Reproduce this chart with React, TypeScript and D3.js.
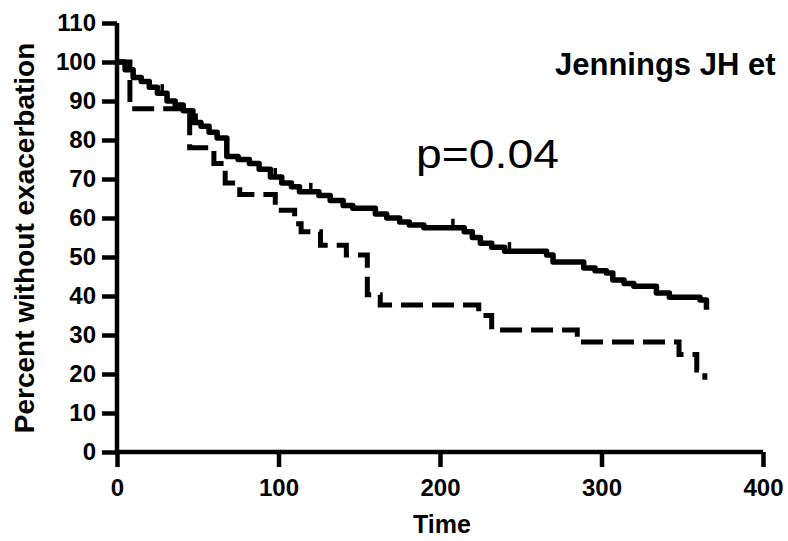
import React, { useRef, useEffect } from 'react';
import * as d3 from 'd3';

// solid curve: event times (days) and percent after each event
const solidTimes = [0, 5, 10, 15, 20, 25, 31, 36, 41, 47, 52, 57, 62, 68, 75, 82, 88, 95, 102, 108, 113, 125, 132, 140, 146, 160, 167, 175, 181, 190, 215, 220, 225, 232, 240, 266, 270, 289, 296, 303, 307, 314, 320, 334, 342, 361, 365];
const solidPct = [100, 98, 96, 95, 93.5, 92, 90, 89, 87.5, 84.5, 83.5, 82, 80.5, 75.8, 75, 74, 72.5, 70.5, 69, 68, 66.7, 65.8, 64.5, 63.2, 62.5, 61, 60, 59, 58.2, 57.5, 56.5, 55, 53.5, 52.5, 51.5, 50.5, 48.7, 47.2, 46.5, 45.9, 44.1, 43.2, 42.5, 40.8, 39.7, 39, 36.5];
const solidCensored = [28, 49, 98, 120, 208, 243];

// dashed curve
const dashTimes = [0, 8, 45, 60, 67, 76, 98, 110, 114, 126, 142, 155, 163, 224, 232, 285, 348, 359, 364];
const dashPct = [100, 88, 78, 74, 69, 66, 62, 58.5, 56.5, 53, 50.5, 40.3, 37.7, 35, 31.3, 28.2, 25, 21, 18.5];

const xTicks = [0, 100, 200, 300, 400];
const yTicks = [0, 10, 20, 30, 40, 50, 60, 70, 80, 90, 100, 110];

const font = "'Liberation Sans', Arial, sans-serif";

const App = () => {
    const ref = useRef(null);

    useEffect(() => {
        const svg = d3.select(ref.current);
        svg.selectAll("*").remove();

        const x = d3.scaleLinear().domain([0, 400]).range([117, 763]);
        const y = d3.scaleLinear().domain([0, 110]).range([452, 23]);

        const line = d3.line()
            .x(d => x(d[0]))
            .y(d => y(d[1]))
            .curve(d3.curveStepAfter);

        const solid = solidTimes.map((t, i) => [t, solidPct[i]]);
        const dashed = dashTimes.map((t, i) => [t, dashPct[i]]);

        svg.append("path")
            .attr("d", line(dashed))
            .attr("fill", "none")
            .attr("stroke", "#000")
            .attr("stroke-width", 5)
            .attr("stroke-dasharray", "22,9");

        svg.append("path")
            .attr("d", line(solid))
            .attr("fill", "none")
            .attr("stroke", "#000")
            .attr("stroke-width", 5.5)
            .attr("stroke-linejoin", "round");

        // censor marks
        svg.append("g").selectAll("line")
            .data(solidCensored)
            .join("line")
            .attr("x1", d => x(d))
            .attr("x2", d => x(d))
            .attr("y1", d => y(solidPct[d3.bisectRight(solidTimes, d) - 1]) - 9)
            .attr("y2", d => y(solidPct[d3.bisectRight(solidTimes, d) - 1]) + 2)
            .attr("stroke", "#000")
            .attr("stroke-width", 3.5);

        // axes
        const xAxis = svg.append("g")
            .attr("transform", `translate(0,${y(0)})`)
            .call(d3.axisBottom(x).tickValues(xTicks).tickSize(15).tickPadding(12).tickSizeOuter(0));
        const yAxis = svg.append("g")
            .attr("transform", `translate(${x(0)},0)`)
            .call(d3.axisLeft(y).tickValues(yTicks).tickSize(15).tickPadding(6).tickSizeOuter(0));

        [xAxis, yAxis].forEach(a => {
            a.select(".domain").attr("stroke-width", 4.5).attr("stroke", "#000");
            a.selectAll(".tick line").attr("stroke-width", 4.5).attr("stroke", "#000");
            a.selectAll(".tick text")
                .attr("fill", "#000")
                .style("font-family", font)
                .style("font-weight", "bold")
                .style("font-size", "24px");
        });
        xAxis.select(".domain").attr("d", `M${x(0) - 2},0H${x(400)}`);
        yAxis.select(".domain").attr("d", `M0,${y(110)}V${y(0) + 2}`);

        svg.append("text")
            .attr("x", 442).attr("y", 533)
            .attr("text-anchor", "middle")
            .style("font-family", font).style("font-weight", "bold").style("font-size", "25px")
            .text("Time");

        svg.append("text")
            .attr("transform", `translate(34,238) rotate(-90)`)
            .attr("text-anchor", "middle")
            .style("font-family", font).style("font-weight", "bold").style("font-size", "28px")
            .text("Percent without exacerbation");

        svg.append("text")
            .attr("x", 555).attr("y", 75)
            .style("font-family", font).style("font-weight", "bold").style("font-size", "31px")
            .text("Jennings JH et");

        svg.append("text")
            .attr("x", 416).attr("y", 168)
            .attr("textLength", 143)
            .attr("lengthAdjust", "spacingAndGlyphs")
            .style("font-family", font).style("font-size", "40px")
            .text("p=0.04");
    }, []);

    return (
        <svg ref={ref} width={788} height={541}
            style={{ position: 'absolute', left: 0, top: 0, background: '#fff' }} />
    );
};

export default App;
